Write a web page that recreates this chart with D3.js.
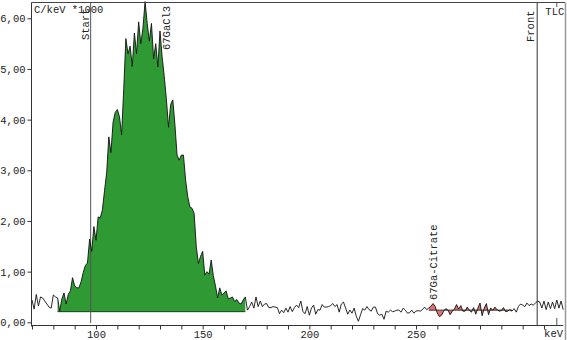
<!DOCTYPE html>
<html>
<head>
<meta charset="utf-8">
<script src="https://cdn.jsdelivr.net/npm/d3@7"></script>
<style>
  body { margin: 0; background: #fff; }
  svg { display: block; }
</style>
</head>
<body>
<div id="chart"></div>
<script>
// Data (1 keV channels, counts in C/keV * 1000)
//////////////////////////////////////////////////////////////////////
const firstKeV = 70;
const counts070 = [0.44, 0.26, 0.55, 0.32, 0.50, 0.48, 0.42, 0.36, 0.30, 0.28,
                   0.54, 0.50, 0.48, 0.22, 0.46, 0.58, 0.36, 0.55, 0.62, 0.88,
                   0.72, 0.68, 0.68, 0.80, 0.98, 1.12, 1.17, 1.64, 1.40, 1.89,
                   1.62, 2.08, 2.06, 2.22, 2.60, 2.95, 3.66, 3.35, 3.95, 4.14,
                   4.20, 4.06, 3.70, 4.60, 5.60, 5.30, 5.45, 5.05, 5.71, 5.30];
const counts120 = [5.93, 5.50, 5.80, 6.33, 5.90, 5.55, 5.90, 5.20, 5.50, 5.04,
                   5.75, 5.24, 4.85, 4.40, 3.85, 4.30, 4.39, 3.90, 3.30, 3.20,
                   3.30, 3.30, 2.81, 2.48, 2.28, 2.25, 2.15, 1.50, 1.16, 1.30,
                   1.40, 0.93, 1.00, 0.95, 1.23, 0.92, 0.72, 0.48, 0.68, 0.54,
                   0.58, 0.62, 0.46, 0.48, 0.50, 0.41, 0.45, 0.38, 0.36, 0.44];
const counts170 = [0.50, 0.24, 0.31, 0.40, 0.28, 0.50, 0.31, 0.42, 0.31, 0.36,
                   0.37, 0.29, 0.29, 0.31, 0.30, 0.29, 0.17, 0.24, 0.19, 0.28,
                   0.20, 0.31, 0.21, 0.29, 0.34, 0.29, 0.42, 0.21, 0.17, 0.31,
                   0.14, 0.28, 0.34, 0.16, 0.25, 0.24, 0.35, 0.30, 0.30, 0.31,
                   0.33, 0.37, 0.31, 0.35, 0.20, 0.36, 0.40, 0.28, 0.16, 0.24];
const counts220 = [0.18, 0.28, 0.12, 0.02, 0.15, 0.27, 0.24, 0.31, 0.25, 0.22,
                   0.30, 0.30, 0.17, 0.14, 0.16, 0.06, 0.22, 0.20, 0.24, 0.21,
                   0.22, 0.24, 0.24, 0.20, 0.28, 0.24, 0.18, 0.19, 0.24, 0.18,
                   0.22, 0.23, 0.22, 0.25, 0.30, 0.25, 0.28, 0.32, 0.37, 0.31,
                   0.18, 0.11, 0.14, 0.22, 0.27, 0.24, 0.15, 0.22, 0.26, 0.35];
const counts270 = [0.26, 0.33, 0.22, 0.22, 0.30, 0.24, 0.20, 0.29, 0.16, 0.28,
                   0.38, 0.13, 0.28, 0.37, 0.15, 0.28, 0.24, 0.30, 0.25, 0.22,
                   0.23, 0.29, 0.21, 0.22, 0.25, 0.22, 0.27, 0.20, 0.31, 0.36,
                   0.34, 0.31, 0.38, 0.33, 0.36, 0.34, 0.38, 0.42, 0.40, 0.28,
                   0.42, 0.25, 0.40, 0.27, 0.40, 0.27, 0.44, 0.28, 0.42, 0.25];

// regions of interest
const regionNames = ["67GaCl3", "67Ga-Citrate"];
const regionFrom = [82, 256];
const regionTo = [170, 295];
const regionBase = [0.21, 0.24];
const regionLabelKeV = [134.7, 259.8];
const regionColors = ["#2f9a33", "#e46f6f"];

// TLC markers
const markerNames = ["Start", "Front", "TLC"];
const markerKeV = [97.5, 306.8, 316];

// axis ticks
const yTicks = [0, 1, 2, 3, 4, 5, 6];
const xTicks = [70, 80, 90, 100, 110, 120, 130, 140, 150, 160, 170, 180, 190, 200,
                210, 220, 230, 240, 250, 260, 270, 280, 290, 300, 310];
const xLabels = [100, 150, 200, 250];

// Variables
//////////////////////////////////////////////////////////////////////
const width = 567, height = 340;
const plotLeft = 31.5, plotRight = 563.2, plotTop = 2.5, axisY = 325.5;
const fontFamily = '"Liberation Mono", "DejaVu Sans Mono", monospace';
const fontSize = "10.5px";
const ink = "#222";

const counts = [].concat(counts070, counts120, counts170, counts220, counts270);
const spectrum = counts.map((v, i) => ({ keV: firstKeV + i, v }));

const x = d3.scaleLinear().domain([70, 319]).range([32, 563.2]);
const y = d3.scaleLinear().domain([0, 6]).range([322.3, 18.3]);

const svg = d3.select("#chart").append("svg")
  .attr("width", width)
  .attr("height", height)
  .attr("font-family", fontFamily)
  .attr("font-size", fontSize);

// Region fills (between spectrum and baseline)
//////////////////////////////////////////////////////////////////////
regionNames.forEach((name, i) => {
  const pts = spectrum.filter(d => d.keV >= regionFrom[i] && d.keV <= regionTo[i]);
  const area = d3.area()
    .x(d => x(d.keV))
    .y0(y(regionBase[i]))
    .y1(d => y(d.v));
  svg.append("path")
    .attr("d", area(pts))
    .attr("fill", regionColors[i]);
  svg.append("line")
    .attr("x1", x(regionFrom[i])).attr("x2", x(regionTo[i]))
    .attr("y1", y(regionBase[i])).attr("y2", y(regionBase[i]))
    .attr("stroke", i === 0 ? "#173f17" : "#333")
    .attr("stroke-width", 1);
});

// Marker lines
//////////////////////////////////////////////////////////////////////
// Start
svg.append("line")
  .attr("x1", x(markerKeV[0])).attr("x2", x(markerKeV[0]))
  .attr("y1", plotTop).attr("y2", 323)
  .attr("stroke", "#555");
// Front
svg.append("line")
  .attr("x1", x(markerKeV[1])).attr("x2", x(markerKeV[1]))
  .attr("y1", plotTop).attr("y2", axisY)
  .attr("stroke", "#333");
// TLC (short ticks top and bottom)
svg.append("line")
  .attr("x1", x(markerKeV[2])).attr("x2", x(markerKeV[2]))
  .attr("y1", plotTop).attr("y2", 7)
  .attr("stroke", "#555");
svg.append("line")
  .attr("x1", x(markerKeV[2])).attr("x2", x(markerKeV[2]))
  .attr("y1", 318).attr("y2", axisY)
  .attr("stroke", "#555");

// Spectrum line
//////////////////////////////////////////////////////////////////////
svg.append("path")
  .attr("d", d3.line().x(d => x(d.keV)).y(d => y(d.v))(spectrum))
  .attr("fill", "none")
  .attr("stroke", "#111")
  .attr("stroke-width", 0.9);

// Frame
//////////////////////////////////////////////////////////////////////
svg.append("line")
  .attr("x1", plotLeft).attr("x2", 565).attr("y1", plotTop).attr("y2", plotTop)
  .attr("stroke", "#444");
svg.append("line")
  .attr("x1", 565.5).attr("x2", 565.5).attr("y1", plotTop).attr("y2", height)
  .attr("stroke", "#999").attr("stroke-width", 1.5);

// Axes
//////////////////////////////////////////////////////////////////////
const yAxis = svg.append("g")
  .attr("transform", `translate(${plotLeft},0)`)
  .call(d3.axisLeft(y)
    .tickValues(yTicks)
    .tickSize(4)
    .tickPadding(2)
    .tickFormat(d => d3.format(".2f")(d).replace(".", ",")));
yAxis.select(".domain").remove();
yAxis.append("line")
  .attr("x1", 0).attr("x2", 0).attr("y1", plotTop).attr("y2", axisY + 1)
  .attr("stroke", "#333");

const xAxis = svg.append("g")
  .attr("transform", `translate(0,${axisY})`)
  .call(d3.axisBottom(x)
    .tickValues(xTicks)
    .tickSize(4)
    .tickPadding(1)
    .tickFormat(d => xLabels.includes(d) ? d : ""));
xAxis.select(".domain").remove();
xAxis.append("line")
  .attr("x1", plotLeft).attr("x2", plotRight).attr("y1", 0).attr("y2", 0)
  .attr("stroke", "#333");

svg.selectAll(".tick line").attr("stroke", "#333");
svg.selectAll(".tick text")
  .attr("fill", ink)
  .attr("font-family", fontFamily)
  .attr("font-size", fontSize);

// Texts
//////////////////////////////////////////////////////////////////////
svg.append("text")
  .attr("x", 34).attr("y", 13)
  .attr("fill", ink)
  .text("C/keV *1000");

svg.append("text")
  .attr("x", 563).attr("y", 337)
  .attr("text-anchor", "end")
  .attr("fill", ink)
  .text("keV");

svg.append("text")
  .attr("x", x(markerKeV[2]) - 2).attr("y", 15)
  .attr("text-anchor", "middle")
  .attr("fill", ink)
  .text(markerNames[2]);

// vertical labels (bottom -> top)
const vLabels = [
  { name: markerNames[0], px: x(markerKeV[0]) - 2, py: 40 },
  { name: markerNames[1], px: x(markerKeV[1]) - 3, py: 42 },
  { name: regionNames[0], px: x(regionLabelKeV[0]), py: 50 },
  { name: regionNames[1], px: x(regionLabelKeV[1]), py: 300 }
];
svg.append("g")
  .selectAll("text")
  .data(vLabels)
  .join("text")
  .attr("transform", d => `translate(${d.px},${d.py}) rotate(-90)`)
  .attr("fill", ink)
  .text(d => d.name);
</script>
</body>
</html>
